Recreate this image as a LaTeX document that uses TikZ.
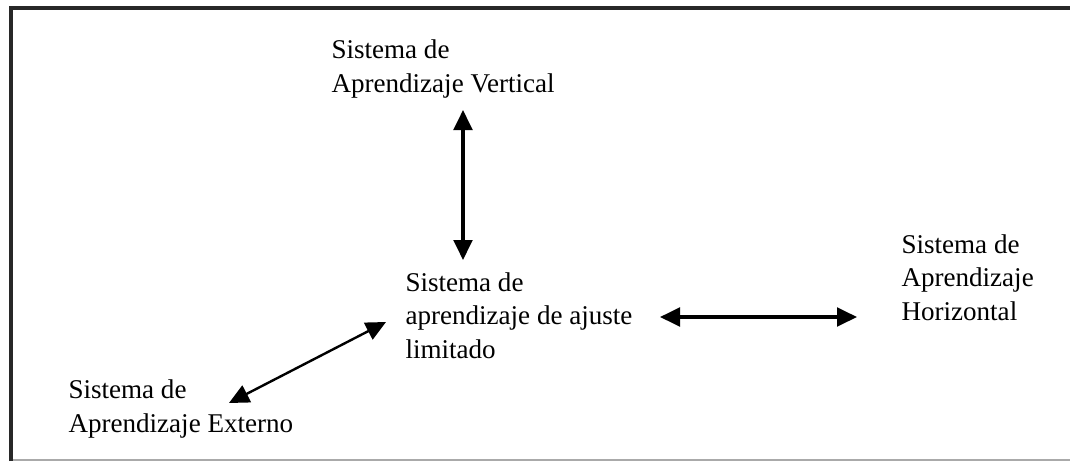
\documentclass[tikz,border=0pt]{standalone}
\usepackage{fontspec}
\setmainfont{Liberation Serif}
\usetikzlibrary{arrows.meta}

\tikzset{every picture/.style={line width=0.75pt}}
\tikzset{
  lbl/.style={anchor=base west, inner sep=0pt, align=left, font=\fontsize{20.3}{25}\selectfont},
  dblarrow/.style={{Triangle[length=15pt,width=14pt]}-{Triangle[length=15pt,width=14pt]}, line width=2.4pt},
  thinarrow/.style={{Triangle[length=15pt,width=14pt]}-{Triangle[length=15pt,width=14pt]}, line width=1.8pt},
}

\begin{document}
\begin{tikzpicture}[x=0.75pt,y=0.75pt,yscale=-1,xscale=1]
\useasboundingbox (0,0) rectangle (1070,461);

%Shape: Frame
\draw [color={rgb, 255:red, 170; green, 170; blue, 170 }, line width=1.5pt] (1075,460) -- (11,460) ;
\draw [color={rgb, 255:red, 40; green, 40; blue, 40 }, line width=2.4pt] (11,461) -- (11,8) -- (1075,8) ;

% Text Node (anchored at last baseline)
\node (vert) [lbl] at (331,92) {Sistema de\\Aprendizaje Vertical};
% Text Node
\node (ajuste) [lbl] at (405,358) {Sistema de\\aprendizaje de ajuste\\limitado};
% Text Node
\node (horiz) [lbl] at (901,320) {Sistema de\\Aprendizaje\\Horizontal};
% Text Node
\node (ext) [lbl] at (68,432) {Sistema de\\Aprendizaje Externo};

%Arrow ends
\coordinate (vtop) at (463,110);
\coordinate (vbot) at (463,260);
\coordinate (hleft) at (660,317);
\coordinate (hright) at (857,317);
\coordinate (dtop) at (386,322);
\coordinate (dbot) at (229,403);

%Straight Lines
\draw [dblarrow] (vtop) -- (vbot) ;
\draw [dblarrow] (hleft) -- (hright) ;
\draw [thinarrow] (dtop) -- (dbot) ;

\end{tikzpicture}
\end{document}
